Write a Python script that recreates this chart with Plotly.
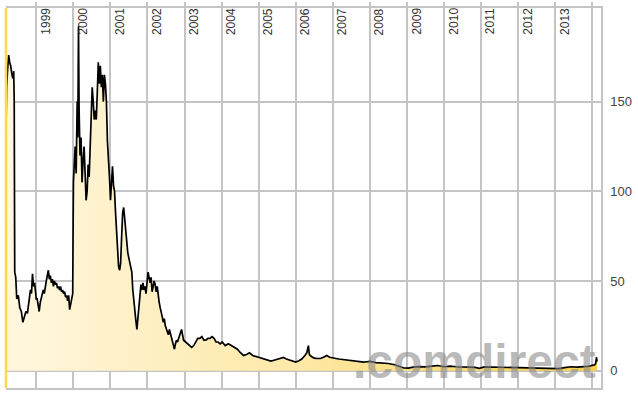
import plotly.graph_objects as go

# ---- data ----
dates = [
    "1998-03-11", "1998-03-16", "1998-03-26", "1998-04-05", "1998-04-15", "1998-04-25", "1998-05-05",
    "1998-05-15", "1998-05-25", "1998-05-30", "1998-06-04", "1998-06-14", "1998-06-24", "1998-07-09",
    "1998-07-24", "1998-08-08", "1998-08-23", "1998-09-07", "1998-09-22", "1998-10-07", "1998-10-22",
    "1998-11-06", "1998-11-16", "1998-11-26", "1998-12-06", "1998-12-16", "1998-12-26",
    "1999-01-01", "1999-01-11", "1999-01-21", "1999-01-31", "1999-02-10", "1999-02-20", "1999-03-02",
    "1999-03-12", "1999-03-22", "1999-04-01", "1999-04-11", "1999-04-21", "1999-05-01", "1999-05-11",
    "1999-05-21", "1999-05-31", "1999-06-10", "1999-06-20", "1999-06-30", "1999-07-10", "1999-07-20",
    "1999-07-30", "1999-08-09", "1999-08-19", "1999-08-29", "1999-09-08", "1999-09-18", "1999-09-28",
    "1999-10-08", "1999-10-18", "1999-10-28", "1999-11-07", "1999-11-17", "1999-11-27", "1999-12-07",
    "1999-12-17", "1999-12-27",
    "2000-01-03", "2000-01-10", "2000-01-20", "2000-01-30", "2000-02-09", "2000-02-15", "2000-02-22",
    "2000-02-28", "2000-03-08", "2000-03-18", "2000-03-28", "2000-04-07", "2000-04-17", "2000-04-27",
    "2000-05-07", "2000-05-17", "2000-05-27", "2000-06-06", "2000-06-16", "2000-06-26", "2000-07-06",
    "2000-07-16", "2000-07-26", "2000-08-05", "2000-08-15", "2000-08-25", "2000-09-04", "2000-09-14",
    "2000-09-24", "2000-10-04", "2000-10-14", "2000-10-24", "2000-11-03", "2000-11-13", "2000-11-23",
    "2000-12-03", "2000-12-13", "2000-12-23",
    "2001-01-02", "2001-01-12", "2001-01-22", "2001-02-01", "2001-02-11", "2001-02-21", "2001-03-03",
    "2001-03-13", "2001-03-23", "2001-04-02", "2001-04-12", "2001-04-22", "2001-05-02", "2001-05-12",
    "2001-05-22", "2001-06-01", "2001-06-11", "2001-06-21", "2001-07-01", "2001-07-11", "2001-07-21",
    "2001-07-31", "2001-08-10", "2001-08-20", "2001-08-30", "2001-09-09", "2001-09-19", "2001-09-29",
    "2001-10-09", "2001-10-19", "2001-10-29", "2001-11-08", "2001-11-18", "2001-11-28", "2001-12-08",
    "2001-12-18", "2001-12-28",
    "2002-01-07", "2002-01-17", "2002-01-27", "2002-02-06", "2002-02-16", "2002-02-26", "2002-03-08",
    "2002-03-18", "2002-03-28", "2002-04-07", "2002-04-17", "2002-04-27", "2002-05-07", "2002-05-17",
    "2002-05-27", "2002-06-06", "2002-06-16", "2002-06-26", "2002-07-06", "2002-07-16", "2002-07-26",
    "2002-08-05", "2002-08-15", "2002-08-25", "2002-09-04", "2002-09-14", "2002-09-24", "2002-10-04",
    "2002-10-14", "2002-10-24", "2002-11-03", "2002-11-13", "2002-11-23", "2002-12-03", "2002-12-13",
    "2002-12-23",
    "2003-01-12", "2003-02-01", "2003-02-21", "2003-03-13", "2003-04-02", "2003-04-22", "2003-05-12",
    "2003-06-01", "2003-06-21", "2003-07-11", "2003-07-31", "2003-08-20", "2003-09-09", "2003-09-29",
    "2003-10-19", "2003-11-08", "2003-11-28", "2003-12-18",
    "2004-01-07", "2004-02-06", "2004-03-07", "2004-04-06", "2004-05-06", "2004-06-05", "2004-07-05",
    "2004-08-04", "2004-09-03", "2004-10-03", "2004-11-02", "2004-12-02",
    "2005-01-01", "2005-02-01", "2005-03-01", "2005-04-01", "2005-05-01", "2005-06-01", "2005-07-01",
    "2005-08-01", "2005-09-01", "2005-10-01", "2005-11-01", "2005-12-01",
    "2006-01-01", "2006-02-01", "2006-03-01", "2006-04-01", "2006-04-20", "2006-05-05", "2006-05-15",
    "2006-06-01", "2006-07-01", "2006-08-01", "2006-09-01", "2006-10-01", "2006-11-01", "2006-12-01",
    "2007-01-01", "2007-02-01", "2007-03-01", "2007-04-01", "2007-05-01", "2007-06-01", "2007-07-01",
    "2007-08-01", "2007-09-01", "2007-10-01", "2007-11-01", "2007-12-01",
    "2008-01-01", "2008-03-01", "2008-05-01", "2008-07-01", "2008-09-01", "2008-10-15", "2008-12-01",
    "2009-01-15", "2009-03-01", "2009-05-01", "2009-07-01", "2009-09-01", "2009-11-01",
    "2010-01-01", "2010-03-01", "2010-05-01", "2010-07-01", "2010-09-01", "2010-11-01", "2010-12-15",
    "2011-02-01", "2011-04-01", "2011-06-01", "2011-08-01", "2011-10-01", "2011-12-01",
    "2012-02-01", "2012-04-01", "2012-06-01", "2012-08-01", "2012-10-01", "2012-12-01",
    "2013-02-01", "2013-04-01", "2013-06-01", "2013-08-01", "2013-10-01", "2013-11-15", "2013-12-20",
    "2014-01-20", "2014-02-01", "2014-02-10", "2014-02-15",
]

prices = [
    138, 158, 168, 176, 172, 170, 166,
    163, 167, 150, 55, 52, 40, 42,
    35, 33, 27, 30, 33, 32, 38,
    45, 43, 54, 47, 49, 44,
    40, 40, 36, 33, 38, 41, 44,
    45, 43, 48, 50, 53, 56, 51,
    53, 49, 51, 47, 50, 48, 49,
    46, 47, 45, 47, 44, 45, 43,
    44, 41, 42, 39, 42, 34, 38,
    41, 43,
    105, 115, 125, 110, 150, 130, 192,
    145, 120, 130, 105, 117, 125, 110,
    95, 100, 115, 108, 125, 140, 158,
    150, 140, 145, 140, 155, 172, 160,
    170, 158, 165, 150, 165, 160, 150,
    128, 120, 108,
    95, 110, 114, 103, 100, 88, 75,
    62, 58, 56, 60, 75, 88, 91,
    84, 78, 70, 66, 63, 60, 58,
    55, 45, 38, 33, 28, 23, 30,
    38, 44, 48, 45, 49, 45, 47,
    43, 48,
    55, 52, 49, 52, 44, 47, 50,
    48, 44, 47, 41, 38, 35, 33,
    30, 27, 29, 25, 23, 22, 20,
    23, 21, 19, 17, 14, 12, 15,
    17, 16, 18, 20, 22, 23, 20,
    17,
    16, 15, 14, 13, 14, 16, 18,
    18, 19, 17, 17, 18, 18, 19,
    18, 16, 16, 15,
    16, 14, 15, 14, 13, 12, 10,
    8.5, 9, 10, 8.5, 8,
    7.5, 7, 6.5, 6, 5.3, 5.8, 6.3,
    7, 7.4, 6.5, 5.8, 5.5,
    4.8, 5.5, 6.5, 8.5, 10, 14, 9,
    8, 7, 6.8, 6.8, 7.5, 8.5, 7.5,
    7, 6.8, 6.5, 6.3, 6, 5.8, 5.5,
    5.2, 5.3, 5, 4.8, 5,
    5.2, 4.5, 4.3, 4, 3.3, 2.4, 1.5,
    1.4, 2, 2.3, 2.1, 2.5, 2.9,
    2.2, 2.5, 2.2, 1.9, 2, 1.8, 1.3,
    2.1, 2, 1.9, 1.9, 1.8, 1.8,
    1.8, 1.7, 1.5, 1.4, 1.1, 1.1,
    1.2, 1.7, 2.2, 2, 2.1, 2.4, 2.8,
    3.2, 4, 7.5, 5,
]

year_labels = [str(y) for y in range(1999, 2014)]
grid_years = [f"{y}-01-01" for y in range(1999, 2015)]
y_ticks = [0, 50, 100, 150]
x_range = ["1998-03-10", "2014-03-26"]
y_range = [-9.65, 202.2]

GRID = "#c4c4c4"

fig = go.Figure()
fig.add_trace(go.Scatter(
    x=dates, y=prices, mode="lines",
    line=dict(color="#000000", width=1.7),
    fill="tozeroy",
    fillgradient=dict(type="horizontal",
                      colorscale=[[0, "#fff7df"], [0.5, "#fde8a6"], [1, "#f8d04a"]]),
    hoverinfo="skip", showlegend=False,
))

# watermark
fig.add_annotation(
    text="<b>.comdirect</b>", xref="paper", yref="paper", x=0.995, y=-0.005,
    xanchor="right", yanchor="bottom", showarrow=False,
    font=dict(family="Liberation Sans, Arial", size=48, color="rgba(140,140,140,0.6)"),
)

for lab, d in zip(year_labels, grid_years):
    fig.add_annotation(
        text=lab, x=d, xref="x", y=1.0, yref="paper", textangle=-90,
        xanchor="left", yanchor="top", showarrow=False, xshift=0, yshift=2,
        font=dict(family="Liberation Sans, Arial", size=12, color="#333333"),
    )

fig.add_shape(type="line", xref="paper", yref="paper", x0=0, x1=0, y0=0, y1=1,
              line=dict(color="#ffd84d", width=2.5))

fig.update_layout(
    width=638, height=395,
    margin=dict(l=6, r=37, t=4, b=7),
    paper_bgcolor="white", plot_bgcolor="white",
    xaxis=dict(type="date", range=x_range, side="top",
               tickmode="array", tickvals=grid_years, showticklabels=False,
               ticks="outside", ticklen=4, tickcolor=GRID, tickwidth=1.5,
               showgrid=True, gridcolor=GRID, gridwidth=1.5,
               showline=True, mirror=True, linecolor=GRID, linewidth=1.5,
               zeroline=False, fixedrange=True),
    yaxis=dict(range=y_range, side="right", tickmode="array", tickvals=y_ticks,
               ticks="", ticklabelstandoff=5,
               tickfont=dict(family="Liberation Sans, Arial", size=13, color="#444444"),
               showgrid=True, gridcolor=GRID, gridwidth=1.5,
               showline=True, linecolor=GRID, linewidth=1.5,
               zeroline=False, fixedrange=True),
)

fig.write_html("out.html", post_script="document.body.style.margin='0px';",
               config={"displayModeBar": False})
